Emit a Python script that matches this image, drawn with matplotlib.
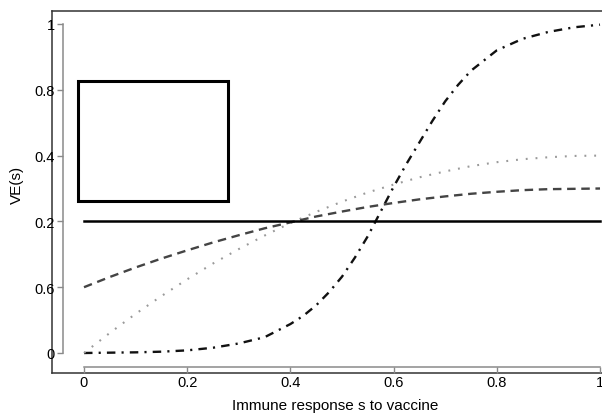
import matplotlib
matplotlib.use("Agg")
import matplotlib.pyplot as plt
from matplotlib.patches import Rectangle

plt.rcParams['font.family'] = ['Liberation Sans', 'DejaVu Sans']

# ---- data ----
x_common = [0.0, 0.05, 0.1, 0.15, 0.2, 0.25, 0.3, 0.35, 0.4, 0.45, 0.5,
            0.55, 0.6, 0.65, 0.7, 0.75, 0.8, 0.85, 0.9, 0.95, 1.0]
ve_constant = [0.4] * len(x_common)
ve_dashed = [0.200, 0.231, 0.260, 0.287, 0.312, 0.336, 0.358, 0.379, 0.397, 0.415, 0.430,
             0.444, 0.456, 0.467, 0.476, 0.484, 0.490, 0.495, 0.498, 0.499, 0.500]
ve_dotted = [0.000, 0.061, 0.119, 0.173, 0.224, 0.272, 0.316, 0.357, 0.395, 0.429, 0.460,
             0.488, 0.512, 0.534, 0.552, 0.568, 0.580, 0.589, 0.595, 0.599, 0.600]
x_sig = [0.0, 0.05, 0.1, 0.15, 0.2, 0.25, 0.3, 0.35, 0.4, 0.425, 0.45, 0.475, 0.5, 0.525,
         0.55, 0.575, 0.6, 0.625, 0.65, 0.675, 0.7, 0.725, 0.75, 0.8, 0.85, 0.9, 0.95, 1.0]
ve_sigmoid = [0.000, 0.001, 0.002, 0.004, 0.008, 0.016, 0.029, 0.048, 0.088, 0.113, 0.145,
              0.185, 0.232, 0.290, 0.355, 0.430, 0.505, 0.575, 0.640, 0.705, 0.765, 0.815,
              0.858, 0.920, 0.955, 0.976, 0.990, 0.998]

xticks = [0, 0.2, 0.4, 0.6, 0.8, 1]
xticklabels = ['0', '0.2', '0.4', '0.6', '0.8', '1']
yticks = [0, 0.2, 0.4, 0.6, 0.8, 1]
yticklabels = ['0', '0.6', '0.2', '0.4', '0.8', '1']

# ---- figure ----
W, H = 602, 414
fig = plt.figure(figsize=(W / 100, H / 100), dpi=100)
pos = [52 / W, (H - 374) / H, (612 - 52) / W, (374 - 12) / H]
xl = ((52 - 84) / 516, (612 - 84) / 516)
yl = ((354 - 374) / 329, (354 - 12) / 329)

frame = fig.add_axes(pos)
frame.set_xlim(xl); frame.set_ylim(yl)
frame.set_xticks([]); frame.set_yticks([])
for s in ['left', 'top', 'bottom']:
    frame.spines[s].set_color('#333333')
    frame.spines[s].set_linewidth(1.1)
frame.spines['right'].set_visible(False)

ax = fig.add_axes(pos)
ax.set_xlim(xl); ax.set_ylim(yl)
ax.patch.set_visible(False)
ax.spines['top'].set_visible(False)
ax.spines['right'].set_visible(False)
ax.spines['left'].set_position(('data', (63 - 84) / 516))
ax.spines['left'].set_bounds(0, 1)
ax.spines['bottom'].set_position(('data', (354 - 368) / 329))
ax.spines['bottom'].set_bounds(0, 1)
for s in ['left', 'bottom']:
    ax.spines[s].set_color('#8a8a8a')
    ax.spines[s].set_linewidth(1.1)
ax.set_xticks(xticks)
ax.set_xticklabels(xticklabels)
ax.set_yticks(yticks)
ax.set_yticklabels(yticklabels)
ax.tick_params(axis='both', direction='out', color='#8a8a8a', width=1.0,
               labelsize=10.5, labelcolor='black')
ax.tick_params(axis='y', length=4.5, pad=1.2)
ax.tick_params(axis='x', length=4.3, pad=1.2)

ax.plot(x_sig, ve_sigmoid, color='#111111', lw=1.7,
        linestyle=(0, (3.6, 2.6, 0.9, 2.6)), solid_capstyle='butt')
ax.plot(x_common, ve_dotted, color='#9a9a9a', lw=1.5,
        linestyle=(0, (0.9, 3.8)))
ax.plot(x_common, ve_dashed, color='#444444', lw=1.7,
        linestyle=(0, (3.6, 2.4)), solid_capstyle='butt')
ax.plot(x_common, ve_constant, color='black', lw=1.8)

ax.add_patch(Rectangle(((78 - 84) / 516, (354 - 202) / 329),
                       (228 - 78) / 516, (202 - 82) / 329,
                       fill=False, ec='black', lw=2.2))

fig.text(17 / W, 1 - 185 / H, 'VE(s)', rotation=90, ha='center', va='center', fontsize=11)
fig.text(335 / W, 1 - 406 / H, 'Immune response s to vaccine', ha='center', va='center', fontsize=11)

fig.savefig('out.png', dpi=100)
